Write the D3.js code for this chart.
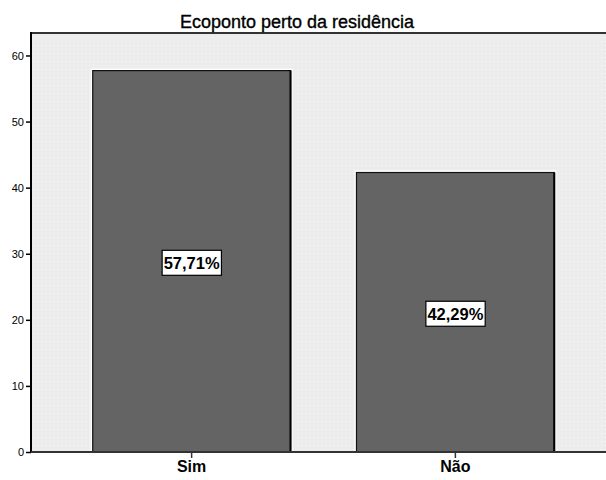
<!DOCTYPE html>
<html><head><meta charset="utf-8">
<script src="https://cdn.jsdelivr.net/npm/d3@7"></script>
<style>body{margin:0;background:#fff}svg{display:block}text{font-family:"Liberation Sans",Arial,sans-serif}</style>
</head><body>
<svg id="c" width="606" height="480"></svg>
<script>
const title = "Ecoponto perto da residência";
const categories = ["Sim", "Não"];
const values = [57.71, 42.29];
const labels = ["57,71%", "42,29%"];
const yTicks = [0, 10, 20, 30, 40, 50, 60];

(function(){
const svg = d3.select("#c");
const mLeft = 31, mTop = 33, mBottom = 452, mRight = 616;
const y = d3.scaleLinear().domain([0, 63.4]).range([mBottom, mTop]);
const x = d3.scaleBand().domain(categories).range([mLeft, mRight]).paddingInner(0.25).paddingOuter(0.234);

const defs = svg.append("defs");
const pat = defs.append("pattern").attr("id","dots").attr("width",4).attr("height",4).attr("patternUnits","userSpaceOnUse");
pat.append("rect").attr("width",4).attr("height",4).attr("fill","#ececec");
pat.append("rect").attr("x",1).attr("y",1).attr("width",1).attr("height",1).attr("fill","#f6f6f6");

svg.append("rect").attr("x", mLeft).attr("y", mTop).attr("width", mRight - mLeft).attr("height", mBottom - mTop).attr("fill", "url(#dots)");

svg.append("line").attr("x1", mLeft).attr("x2", 606).attr("y1", mTop).attr("y2", mTop).attr("stroke", "#333").attr("stroke-width", 2);

const g = svg.append("g");
g.selectAll("rect.hl").data(values).join("rect").attr("class","hl")
  .attr("x",(d,i)=>x(categories[i])-2).attr("y",d=>y(d)-2)
  .attr("width",x.bandwidth()+4).attr("height",d=>mBottom-y(d)+2).attr("fill","#fff");
g.selectAll("rect.bar").data(values).join("rect").attr("class","bar")
  .attr("x",(d,i)=>x(categories[i])).attr("y",d=>y(d))
  .attr("width",x.bandwidth()).attr("height",d=>mBottom-y(d))
  .attr("fill","#646464").attr("stroke","#111").attr("stroke-width",1.2);
g.selectAll("line.sh").data(values).join("line").attr("class","sh")
  .attr("x1",(d,i)=>x(categories[i])+x.bandwidth()).attr("x2",(d,i)=>x(categories[i])+x.bandwidth())
  .attr("y1",d=>y(d)).attr("y2",mBottom).attr("stroke","#000").attr("stroke-width",2);

values.forEach((v,i)=>{
  const cx = x(categories[i]) + x.bandwidth()/2;
  const cy = (y(v) + mBottom)/2 + 1.5;
  const lg = svg.append("g");
  const r = lg.append("rect");
  const t = lg.append("text").attr("x",cx).attr("y",cy+6).attr("text-anchor","middle")
    .attr("font-size",16.5).attr("font-weight","bold").attr("fill","#000").text(labels[i]);
  const bb = t.node().getBBox();
  r.attr("x",bb.x-1.5).attr("y",cy-12.5).attr("width",bb.width+3).attr("height",25)
    .attr("fill","#fff").attr("stroke","#000").attr("stroke-width",1.2);
});

const ya = svg.append("g").attr("transform",`translate(${mLeft},0)`)
  .call(d3.axisLeft(y).tickValues(yTicks).tickSize(5).tickPadding(2).tickFormat(d3.format("d")));
ya.select(".domain").remove();
ya.selectAll(".tick line").attr("stroke","#000").attr("stroke-width",1.5);
ya.selectAll(".tick text").attr("font-size",11).attr("font-family","Liberation Sans, Arial, sans-serif").attr("fill","#000");
svg.append("line").attr("x1",mLeft).attr("x2",mLeft).attr("y1",mTop-1).attr("y2",mBottom+1).attr("stroke","#000").attr("stroke-width",2);

const xa = svg.append("g").attr("transform",`translate(0,${mBottom})`)
  .call(d3.axisBottom(x).tickSize(6).tickPadding(3));
xa.select(".domain").remove();
xa.selectAll(".tick line").attr("stroke","#333").attr("stroke-width",1.5);
xa.selectAll(".tick text").attr("font-size",16).attr("font-weight","bold").attr("font-family","Liberation Sans, Arial, sans-serif").attr("fill","#000");
svg.append("line").attr("x1",mLeft).attr("x2",606).attr("y1",mBottom).attr("y2",mBottom).attr("stroke","#333").attr("stroke-width",2);

svg.append("text").attr("x",297).attr("y",28).attr("text-anchor","middle").attr("font-size",18).attr("fill","#000")
  .attr("stroke","#000").attr("stroke-width",0.35).text(title);
})();
</script>
</body></html>
